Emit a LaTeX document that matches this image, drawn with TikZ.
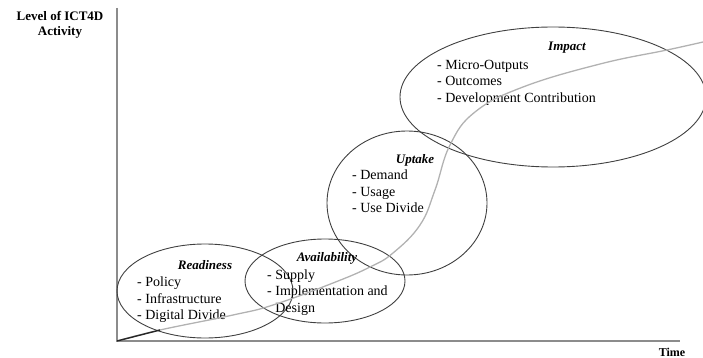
\documentclass[tikz,border=0pt]{standalone}
\usepackage{fontspec}
\setmainfont{Liberation Serif}
\usetikzlibrary{shapes.geometric}

\begin{document}
\begin{tikzpicture}[x=1pt, y=-1pt,
    phase/.style={draw=black!75, line width=0.9pt, ellipse, inner sep=0pt},
    title/.style={font=\fontsize{13}{15}\selectfont\bfseries\itshape},
    items/.style={align=left, anchor=north west, inner sep=0pt,
      font=\fontsize{14}{16.5}\selectfont},
    axis/.style={draw=black!45, line width=1.6pt},
    growth/.style={draw=black!30, line width=1.3pt}]
    \useasboundingbox (0,0) rectangle (703,358);

    % axes
    \coordinate (O) at (117,341);
    \coordinate (Y) at (117,8);
    \coordinate (X) at (680,341);
    \draw[axis] (Y) -- (O) -- (X);
    \node[align=center, font=\fontsize{13}{15}\selectfont\bfseries] (ylab) at (60,25) {Level of ICT4D\\Activity};
    \node[font=\fontsize{12}{14}\selectfont\bfseries] (xlab) at (672,352) {Time};

    % phases
    \node[phase, minimum width=176, minimum height=94] (R) at (205,291) {};
    \node[phase, minimum width=160, minimum height=84] (A) at (325,281) {};
    \node[phase, minimum width=160, minimum height=144] (U) at (407,203) {};
    \node[phase, minimum width=306, minimum height=140] (I) at (553,97) {};

    \node[title] (Rt) at (205,265) {Readiness};
    \node[title] (At) at (327,258) {Availability};
    \node[title] (Ut) at (415,160) {Uptake};
    \node[title] (It) at (567,48) {Impact};

    \node[items] (Rl) at (137,277) {- Policy\\- Infrastructure\\- Digital Divide};
    \node[items] (Al) at (267,269.5) {- Supply\\- Implementation and\\\hphantom{- }Design};
    \node[items] (Ul) at (352,170) {- Demand\\- Usage\\- Use Divide};
    \node[items] (Il) at (437,60) {- Micro-Outputs\\- Outcomes\\- Development Contribution};

    % s-curve
    \draw[growth] plot[smooth, tension=0.7] coordinates {(O) (160,330) (233,315) (273,305)
      (333,283) (370,267) (393,253) (420,225) (435,190) (450,145)
      (475,112) (523,87) (600,64) (667,50) (703,42)};
    \draw[black!85, line width=1.4pt] (O) -- (160,330);
  \end{tikzpicture}
\end{document}
